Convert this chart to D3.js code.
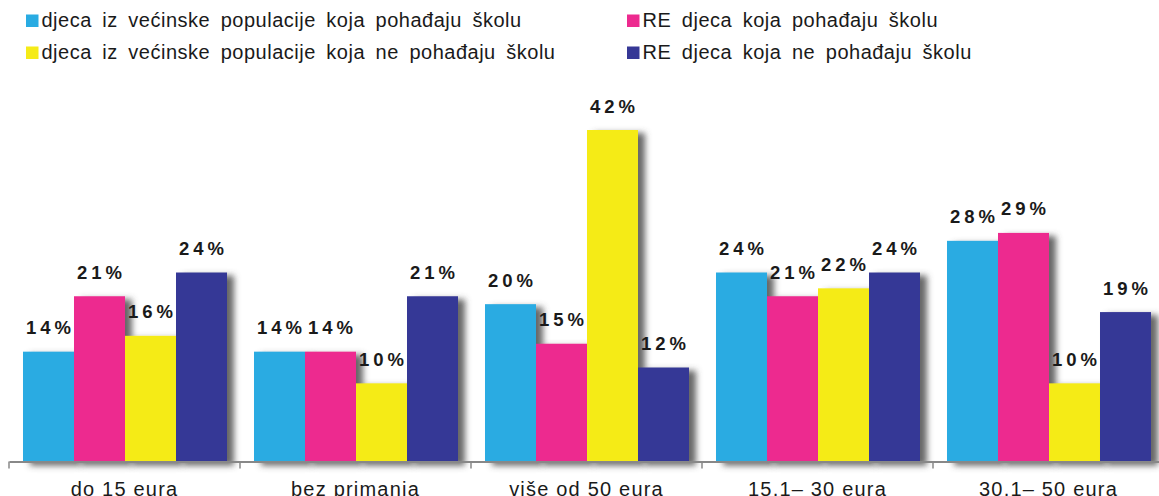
<!DOCTYPE html>
<html>
<head>
<meta charset="utf-8">
<script src="https://cdn.jsdelivr.net/npm/d3@7"></script>
<style>
  body { margin: 0; background: #fff; }
  svg { display: block; font-family: "Liberation Sans", Arial, sans-serif; }
  .legend text { font-size: 20px; fill: #1a1a1a; letter-spacing: 0.5px; word-spacing: 4.5px; }
  .value { font-size: 18.5px; font-weight: bold; fill: #1a1a1a; letter-spacing: 4px; }
  .axis text { font-size: 20px; fill: #1a1a1a; letter-spacing: 1.2px; }
</style>
</head>
<body>
<div id="chart"></div>
<script>
const categories = ['do 15 eura', 'bez primanja', 'više od 50 eura', '15,1– 30 eura', '30,1– 50 eura'];
const seriesNames = [
  'djeca iz većinske populacije koja pohađaju školu',
  'RE djeca koja pohađaju školu',
  'djeca iz većinske populacije koja ne pohađaju školu',
  'RE djeca koja ne pohađaju školu'
];
const majorityInSchool = [14, 14, 20, 24, 28];
const roInSchool = [21, 14, 15, 21, 29];
const majorityOutOfSchool = [16, 10, 42, 22, 10];
const roOutOfSchool = [24, 21, 12, 24, 19];
const colors = ['#29abe2', '#ed2a8f', '#f5eb17', '#363896'];

const seriesValues = [majorityInSchool, roInSchool, majorityOutOfSchool, roOutOfSchool];

const width = 1159, height = 496;
const axisY = 461.5;

const svg = d3.select('#chart')
  .append('svg')
  .attr('width', width)
  .attr('height', height);

// drop shadow for the bars
const filter = svg.append('defs')
  .append('filter')
  .attr('id', 'shadow')
  .attr('x', '-10%').attr('y', '-10%')
  .attr('width', '140%').attr('height', '130%');
filter.append('feDropShadow')
  .attr('dx', 7)
  .attr('dy', 3)
  .attr('stdDeviation', 3)
  .attr('flood-color', '#4d4d4d')
  .attr('flood-opacity', 0.85);

/* Scales */
const x0 = d3.scaleBand(categories, [9, 9 + 231 * categories.length]);
const x1 = d3.scaleBand(d3.range(seriesNames.length), [14, 218]);
const y = d3.scaleLinear([0, 42], [axisY + 1, 130]);

/* Bars */
const groups = svg.append('g')
  .selectAll('g')
  .data(categories)
  .join('g')
  .attr('transform', d => `translate(${x0(d)},0)`);

groups.selectAll('rect')
  .data((d, ci) => seriesValues.map((vals, si) => ({ si, v: vals[ci] })))
  .join('rect')
  .attr('x', d => x1(d.si))
  .attr('y', d => y(d.v))
  .attr('width', x1.bandwidth())
  .attr('height', d => y(0) - y(d.v))
  .attr('fill', d => colors[d.si])
  .attr('filter', 'url(#shadow)');

groups.selectAll('text')
  .data((d, ci) => seriesValues.map((vals, si) => ({ si, v: vals[ci] })))
  .join('text')
  .attr('class', 'value')
  .attr('x', d => x1(d.si) + x1.bandwidth() / 2 + 2)
  .attr('y', d => y(d.v) - 17.5)
  .attr('text-anchor', 'middle')
  .text(d => d.v + '%');

/* X axis */
const xAxis = d3.axisBottom(x0)
  .tickSize(0)
  .tickSizeOuter(0);
const axisG = svg.append('g')
  .attr('class', 'axis')
  .attr('transform', `translate(0,${axisY})`)
  .call(xAxis);
axisG.select('.domain').attr('stroke', '#888').attr('stroke-width', 2);
axisG.selectAll('.tick text')
  .attr('y', 34.5)
  .attr('dy', 0);
axisG.selectAll('.boundary')
  .data(categories.map(c => x0(c)).concat([x0.range()[1]]))
  .join('line')
  .attr('class', 'boundary')
  .attr('x1', d => d).attr('x2', d => d)
  .attr('y1', 0).attr('y2', 7)
  .attr('stroke', '#888')
  .attr('stroke-width', 1.5);

/* Legend */
const legend = svg.append('g').attr('class', 'legend');
const item = legend.selectAll('g')
  .data(seriesNames)
  .join('g')
  .attr('transform', (d, i) => `translate(${i % 2 ? 627 : 26},${i < 2 ? 27 : 59})`);
item.append('rect')
  .attr('x', 0).attr('y', -12.5)
  .attr('width', 12.5).attr('height', 12.5)
  .attr('fill', (d, i) => colors[i]);
item.append('text')
  .attr('x', 15.5)
  .attr('y', 0)
  .text(d => d);
</script>
</body>
</html>
